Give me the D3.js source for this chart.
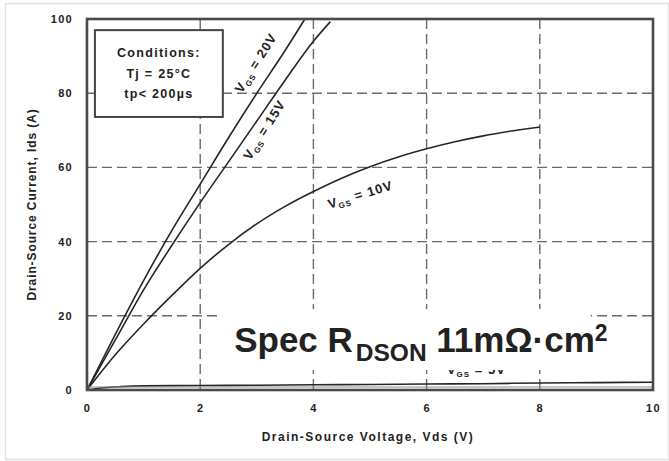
<!DOCTYPE html>
<html>
<head>
<meta charset="utf-8">
<script src="https://cdn.jsdelivr.net/npm/d3@7"></script>
<style>
  html, body { margin: 0; padding: 0; background: #fff; }
  svg { display: block; }
  text { font-family: "Liberation Sans", Arial, sans-serif; fill: #222; }
</style>
</head>
<body>
<svg id="chart" width="669" height="461"></svg>
<script>
// Output characteristics: Ids vs Vds at several gate voltages
const xTicks = [0, 2, 4, 6, 8, 10];
const yTicks = [0, 20, 40, 60, 80, 100];

const vds20 = [0, 0.5, 1, 1.5, 2, 2.5, 3, 3.5, 3.85];
const ids20 = [0, 15, 29.5, 43, 55.5, 68, 80, 91.5, 100];

const vds15 = [0, 0.5, 1, 1.5, 2, 2.5, 3, 3.5, 4, 4.3];
const ids15 = [0, 13.5, 27, 39, 50.5, 61.5, 72.5, 83.5, 94, 99.3];

const vds10 = [0, 0.5, 1, 1.5, 2, 2.5, 3, 3.5, 4, 4.5, 5, 5.5, 6, 6.5, 7, 7.5, 8];
const ids10 = [0, 9.5, 17.8, 25.5, 32.8, 39.2, 44.8, 49.5, 53.5, 57.1, 60.2, 62.8, 65, 66.9, 68.5, 69.8, 70.9];

const vds5 = [0, 0.3, 0.6, 1, 2, 3, 4, 5, 6, 7, 8, 9, 10];
const ids5 = [0, 0.6, 0.9, 1.1, 1.2, 1.3, 1.4, 1.5, 1.6, 1.7, 1.9, 2.0, 2.1];

const conditionLines = ["Conditions:", "Tj = 25°C", "tp< 200µs"];

const svg = d3.select("#chart");
const plot = { left: 87, right: 653, top: 19, bottom: 390 };

const x = d3.scaleLinear().domain([0, 10]).range([plot.left, plot.right]);
const y = d3.scaleLinear().domain([0, 100]).range([plot.bottom, plot.top]);

// outer light frame
svg.append("rect")
  .attr("x", 5.5).attr("y", 3.5).attr("width", 663).attr("height", 456)
  .attr("fill", "#fff").attr("stroke", "#e2e2e2").attr("stroke-width", 1.5);

// dashed grid
const grid = svg.append("g").attr("stroke", "#6a6a6a").attr("stroke-width", 1.4)
  .attr("stroke-dasharray", "10,5").attr("fill", "none");
xTicks.slice(1, -1).forEach(v => {
  grid.append("line").attr("x1", x(v)).attr("x2", x(v)).attr("y1", y(100)).attr("y2", y(0));
});
yTicks.slice(1, -1).forEach(v => {
  grid.append("line").attr("x1", x(0)).attr("x2", x(10)).attr("y1", y(v)).attr("y2", y(v));
});

// axes (labels only; the frame is drawn separately)
const xAxis = svg.append("g")
  .attr("transform", `translate(0,${plot.bottom})`)
  .call(d3.axisBottom(x).tickValues(xTicks).tickSize(0).tickPadding(14).tickFormat(d3.format("d")));
const yAxis = svg.append("g")
  .attr("transform", `translate(${plot.left},0)`)
  .call(d3.axisLeft(y).tickValues(yTicks).tickSize(0).tickPadding(14).tickFormat(d3.format("d")));
[xAxis, yAxis].forEach(a => {
  a.select(".domain").remove();
  a.selectAll("text")
    .style("font-family", "'Liberation Sans', Arial, sans-serif")
    .style("font-size", "11px").style("font-weight", "bold")
    .style("letter-spacing", "1.3px").attr("fill", "#2a2a2a");
});

// curves
const line = d3.line().x(d => x(d[0])).y(d => y(d[1])).curve(d3.curveMonotoneX);
const series = [
  [vds20, ids20],
  [vds15, ids15],
  [vds10, ids10],
  [vds5, ids5]
];
series.forEach(([xs, ys]) => {
  svg.append("path")
    .datum(xs.map((v, i) => [v, ys[i]]))
    .attr("d", line)
    .attr("fill", "none").attr("stroke", "#262626").attr("stroke-width", 1.6);
});

// bottom double rule under the 5V trace
svg.append("line")
  .attr("x1", x(0)).attr("x2", x(10)).attr("y1", y(0) - 3).attr("y2", y(0) - 3)
  .attr("stroke", "#8a8a8a").attr("stroke-width", 1);

// curve labels (V_GS = ...)
function gsLabel(vx, vy, angle, value) {
  const t = svg.append("text")
    .attr("transform", `translate(${x(vx)},${y(vy)}) rotate(${angle})`)
    .attr("text-anchor", "middle")
    .style("font-size", "13px").style("font-weight", "bold").style("letter-spacing", "1px")
    .attr("fill", "#333");
  t.append("tspan").text("V");
  t.append("tspan").attr("dy", 3).style("font-size", "8px").text("GS");
  t.append("tspan").attr("dy", -3).text(" = " + value);
  return t;
}
gsLabel(3.05, 87.5, -58, "20V");
gsLabel(3.2, 69.5, -58, "15V");
gsLabel(4.85, 51.5, -17, "10V");
gsLabel(6.88, 4.4, 0, "5V");

// conditions box
const bx0 = x(0.14), bx1 = x(2.4), by0 = y(97), by1 = y(73.6);
svg.append("rect")
  .attr("x", bx0).attr("y", by0).attr("width", bx1 - bx0).attr("height", by1 - by0)
  .attr("fill", "#fff").attr("stroke", "#444").attr("stroke-width", 2);
conditionLines.forEach((s, i) => {
  svg.append("text")
    .attr("x", (bx0 + bx1) / 2).attr("y", by0 + 27 + i * 20.5)
    .attr("text-anchor", "middle")
    .style("font-size", "12.5px").style("font-weight", "bold").style("letter-spacing", "1.3px")
    .attr("fill", "#2a2a2a")
    .text(s);
});

// spec annotation with white backing
svg.append("rect")
  .attr("x", x(2.32)).attr("y", y(21.8)).attr("width", x(8.9) - x(2.32)).attr("height", y(5.4) - y(21.8))
  .attr("fill", "#fff");
const spec = svg.append("text")
  .attr("x", x(2.6)).attr("y", y(10.2))
  .style("font-size", "35px").style("font-weight", "bold").attr("fill", "#262626");
spec.append("tspan").text("Spec R");
spec.append("tspan").attr("dx", 3).attr("dy", 9).style("font-size", "24.5px").text("DSON");
spec.append("tspan").attr("dy", -9).text(" 11mΩ·cm");
spec.append("tspan").attr("dy", -11).style("font-size", "23px").text("2");

// plot frame
svg.append("rect")
  .attr("x", plot.left).attr("y", plot.top)
  .attr("width", plot.right - plot.left).attr("height", plot.bottom - plot.top)
  .attr("fill", "none").attr("stroke", "#4a4a4a").attr("stroke-width", 2.6);

// axis titles
svg.append("text")
  .attr("x", (plot.left + plot.right) / 2 - 2).attr("y", 441)
  .attr("text-anchor", "middle")
  .style("font-size", "12px").style("font-weight", "bold").style("letter-spacing", "1.5px")
  .attr("fill", "#2a2a2a")
  .text("Drain-Source Voltage, Vds (V)");
svg.append("text")
  .attr("transform", `translate(36,${(plot.top + plot.bottom) / 2}) rotate(-90)`)
  .attr("text-anchor", "middle")
  .style("font-size", "12px").style("font-weight", "bold").style("letter-spacing", "0.9px")
  .attr("fill", "#2a2a2a")
  .text("Drain-Source Current, Ids (A)");
</script>
</body>
</html>
